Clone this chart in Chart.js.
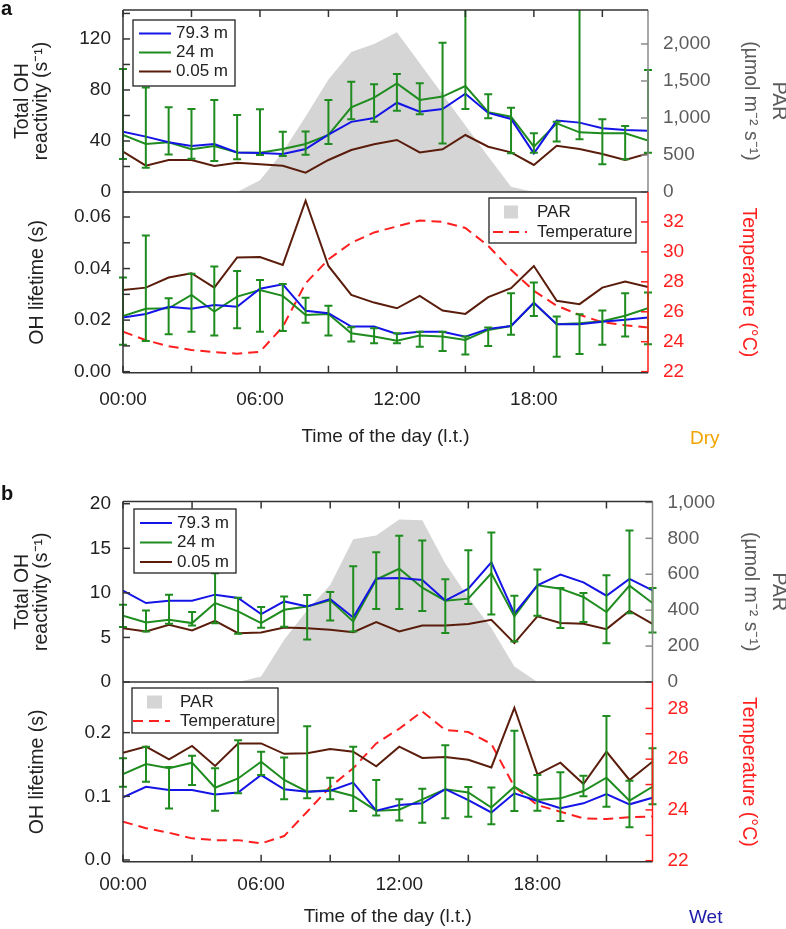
<!DOCTYPE html>
<html>
<head>
<meta charset="utf-8">
<script src="https://cdn.jsdelivr.net/npm/chart.js@4.4.1/dist/chart.umd.min.js"></script>
<style>
  html, body { margin: 0; padding: 0; background: #fff; overflow: hidden; }
  #wrap { position: relative; width: 786px; height: 929px; overflow: hidden; }
  canvas { position: absolute; left: 0; }
  .lbl { position: absolute; font-family: "Liberation Sans", Arial, sans-serif; white-space: nowrap; }
</style>
</head>
<body>
<div id="wrap">
  <canvas id="aTop" width="800" height="210" style="top:0px"></canvas>
  <canvas id="aBot" width="800" height="273" style="top:180px"></canvas>
  <canvas id="bTop" width="800" height="210" style="top:490px"></canvas>
  <canvas id="bBot" width="800" height="262" style="top:670px"></canvas>
  <div class="lbl" style="left:1px;top:-2px;font-size:20px;line-height:20px;font-weight:bold;color:#111">a</div>
  <div class="lbl" style="left:1px;top:483px;font-size:20px;line-height:20px;font-weight:bold;color:#111">b</div>
  <div class="lbl" style="left:690px;top:428px;font-size:19px;line-height:19px;color:#f0a400">Dry</div>
  <div class="lbl" style="left:689px;top:907px;font-size:19px;line-height:19px;color:#1c1ca8">Wet</div>
</div>
<script>
const FONT = '"Liberation Sans", Arial, Helvetica, sans-serif';
Chart.defaults.font.family = FONT;
Chart.defaults.color = "#222";

const hours = [0, 1, 2, 3, 4, 5, 6, 7, 8, 9, 10, 11, 12, 13, 14, 15, 16, 17, 18, 19, 20, 21, 22, 23];
const xTicks = [0, 3, 6, 9, 12, 15, 18, 21];
const xTickLabels = ["00:00", "", "06:00", "", "12:00", "", "18:00", ""];

// a: dry season
const dryOhr793 = [47.3, 43.4, 39, 36, 37.6, 31, 30.6, 29.8, 33.7, 45, 55, 58, 70, 63, 65, 77, 62, 57.3, 30.3, 56, 54.4, 50, 48.6, 48.1];
const dryOhr24 = [44.7, 37.6, 39, 33.5, 36, 31, 30.8, 33.7, 37.6, 44.7, 66.4, 74, 85.2, 72.2, 74.8, 83.1, 62.6, 59, 35.5, 53.8, 46.8, 46, 46, 40.3];
const dryOhr24Lo = [25.9, 19, 29.5, 26, 24.3, 25.6, 29, 28.2, 29.2, 37.6, 57, 55, 63.8, 60.9, 38, 65, 57.8, 30.3, 30.8, 39.5, 41.3, 21.7, 25.6, 30.8];
const dryOhr24Hi = [96.5, 82, 66.4, 65, 72.2, 60.4, 64.8, 47.3, 47.5, 72.2, 86.5, 84.4, 92.5, 85.2, 117, 160, 76.6, 66.1, 46, 55, 160, 57, 51.8, 95.7];
const dryOhr005 = [31.6, 20.6, 25.1, 25.1, 20.4, 23, 21.7, 20.6, 15.1, 25.1, 32.9, 37.4, 40.8, 31, 33.5, 44.7, 35.5, 31.1, 21.2, 36.3, 33.7, 29.8, 25.1, 30.3];
const dryPar = [0, 0, 0, 0, 0, 0, 160, 540, 1020, 1520, 1890, 2000, 2160, 1740, 1320, 900, 480, 70, 0, 0, 0, 0, 0, 0];
const dryLife793 = [0.021, 0.0224, 0.0252, 0.0244, 0.0259, 0.0252, 0.0322, 0.0339, 0.0236, 0.0227, 0.0175, 0.0175, 0.0146, 0.0155, 0.0155, 0.0136, 0.0166, 0.0177, 0.0268, 0.0184, 0.0184, 0.0194, 0.0201, 0.021];
const dryLife24 = [0.0216, 0.0244, 0.0246, 0.0298, 0.0233, 0.0291, 0.0317, 0.0294, 0.022, 0.0224, 0.0149, 0.0136, 0.012, 0.014, 0.0136, 0.0123, 0.0162, 0.0177, 0.0266, 0.0184, 0.0188, 0.0196, 0.0217, 0.0246];
const dryLife24Lo = [0.0104, 0.0119, 0.0145, 0.0155, 0.014, 0.0168, 0.0155, 0.0158, 0.019, 0.014, 0.0117, 0.011, 0.011, 0.0097, 0.008, 0.0067, 0.01, 0.0143, 0.0216, 0.0058, 0.0069, 0.0104, 0.0136, 0.0106];
const dryLife24Hi = [0.0365, 0.0528, 0.0285, 0.038, 0.0408, 0.0391, 0.0356, 0.034, 0.0287, 0.0256, 0.0172, 0.0168, 0.0149, 0.0155, 0.0155, 0.0136, 0.0171, 0.0304, 0.0346, 0.0214, 0.0223, 0.0237, 0.0304, 0.0307];
const dryLife005 = [0.0317, 0.0326, 0.0365, 0.0382, 0.0326, 0.0443, 0.0445, 0.0414, 0.0663, 0.041, 0.0298, 0.0268, 0.0246, 0.0294, 0.0237, 0.0224, 0.0289, 0.0324, 0.041, 0.0275, 0.0262, 0.0326, 0.035, 0.0328];
const dryTemp = [24.67, 24.1, 23.7, 23.45, 23.3, 23.2, 23.33, 25.0, 27.9, 29.5, 30.6, 31.3, 31.7, 32.1, 32.0, 31.6, 30.4, 28.8, 27.4, 26.4, 25.8, 25.3, 25.1, 24.95];

// b: wet season
const wetOhr793 = [10.25, 8.86, 9.12, 9.12, 9.8, 9.42, 7.62, 9.04, 8.48, 9.31, 7.24, 11.6, 11.68, 11.45, 9.14, 10.47, 13.43, 7.66, 10.84, 12.05, 11.18, 9.68, 11.56, 10.28];
const wetOhr24 = [7.43, 6.68, 6.98, 6.61, 8.86, 7.92, 6.61, 8.1, 8.48, 9.16, 6.79, 11.49, 12.7, 10.58, 9.12, 9.35, 12.2, 7.36, 10.84, 10.47, 9.54, 7.85, 10.81, 8.86];
const wetOhr24Lo = [6.16, 5.67, 6.53, 6.34, 6.6, 5.4, 6.1, 6.2, 4.77, 6.9, 5.67, 8.18, 8.2, 7.96, 5.5, 8.76, 7.56, 4.54, 7.43, 6.05, 6.72, 4.35, 7.7, 5.55];
const wetOhr24Hi = [8.67, 8.03, 9.8, 7.85, 12.2, 9.46, 8.41, 9.58, 9.76, 10.1, 12.98, 14.56, 16.4, 15.88, 11.53, 14.79, 16.78, 9.68, 12.61, 10.55, 9.98, 11.97, 17.0, 10.55];
const wetOhr005 = [6.04, 5.67, 6.42, 5.78, 6.87, 5.48, 5.55, 6.12, 6.04, 5.86, 5.58, 6.72, 5.67, 6.34, 6.34, 6.5, 6.98, 4.36, 7.36, 6.61, 6.53, 5.93, 8.0, 6.53];
const wetPar = [0, 0, 0, 0, 0, 0, 30, 235, 400, 540, 795, 815, 905, 900, 660, 470, 300, 86, 0, 0, 0, 0, 0, 0];
const wetLife793 = [0.0984, 0.115, 0.11, 0.11, 0.103, 0.106, 0.1334, 0.111, 0.1072, 0.1088, 0.1214, 0.0774, 0.0863, 0.089, 0.1113, 0.094, 0.0746, 0.1047, 0.0926, 0.0812, 0.089, 0.1036, 0.0874, 0.0978];
const wetLife24 = [0.135, 0.1507, 0.144, 0.1528, 0.1135, 0.128, 0.1543, 0.1256, 0.1072, 0.11, 0.1005, 0.0774, 0.079, 0.0953, 0.111, 0.106, 0.0824, 0.115, 0.0942, 0.0968, 0.1083, 0.1292, 0.0931, 0.115];
const wetLife24Lo = [0.115, 0.123, 0.081, 0.1177, 0.0774, 0.1047, 0.1334, 0.0953, 0.097, 0.0953, 0.077, 0.07, 0.062, 0.0586, 0.0654, 0.068, 0.0562, 0.0769, 0.0774, 0.0612, 0.1, 0.0837, 0.0513, 0.0874];
const wetLife24Hi = [0.1596, 0.178, 0.146, 0.1637, 0.144, 0.188, 0.17, 0.161, 0.21, 0.1292, 0.178, 0.1256, 0.0955, 0.112, 0.18, 0.1145, 0.1138, 0.203, 0.1334, 0.1377, 0.1323, 0.226, 0.1245, 0.1753];
const wetLife005 = [0.1685, 0.178, 0.158, 0.179, 0.1476, 0.183, 0.183, 0.1667, 0.1675, 0.1742, 0.17, 0.147, 0.178, 0.1603, 0.1617, 0.1575, 0.1453, 0.239, 0.1345, 0.1528, 0.1193, 0.17, 0.1256, 0.1543];
const wetTemp = [23.54, 23.28, 23.1, 22.88, 22.81, 22.81, 22.68, 22.97, 23.93, 24.91, 25.64, 26.62, 27.2, 27.88, 27.15, 27.07, 26.6, 24.91, 24.19, 23.93, 23.67, 23.64, 23.71, 23.74];

// axis ticks
const aReactTicks = [0, 20, 40, 60, 80, 100, 120, 140];
const aReactLabels = ["0", "", "40", "", "80", "", "120", ""];
const aParTicks = [0, 500, 1000, 1500, 2000];
const aLifeTicks = [0, 0.01, 0.02, 0.03, 0.04, 0.05, 0.06];
const aLifeLabels = ["0.00", "", "0.02", "", "0.04", "", "0.06"];
const aTempTicks = [22, 24, 26, 28, 30, 32];
const bReactTicks = [0, 5, 10, 15, 20];
const bParTicks = [0, 200, 400, 600, 800, 1000];
const bLifeTicks = [0, 0.1, 0.2];
const bLifeLabels = ["0.0", "0.1", "0.2"];
const bTempTicks = [22, 23, 24, 25, 26, 27, 28];
const bTempLabels = ["22", "", "24", "", "26", "", "28"];

const BLUE = "#1414e6";
const GREEN = "#1e8c1e";
const BROWN = "#5a1d0c";
const RED = "#ff1f1f";
const PARFILL = "#d5d5d5";
const PARAXIS = "#8a8a8a";
const PARTEXT = "#5c5c5c";

function pts(vals) {
  return hours.map((h, i) => ({ x: h, y: vals[i] }));
}

function lineSet(label, vals, color, order, axis) {
  return { label, data: pts(vals), borderColor: color, borderWidth: 2, pointRadius: 0, tension: 0, fill: false, order, yAxisID: axis || "y" };
}

function yAxis(o) {
  return {
    position: o.pos,
    min: o.min,
    max: o.max,
    grid: { display: false, drawTicks: false },
    border: { display: false },
    afterBuildTicks: (s) => { s.ticks = o.ticks.map((v) => ({ value: v })); },
    afterFit: (s) => { s.width = o.width; s.paddingTop = 0; s.paddingBottom = 0; },
    ticks: {
      autoSkip: false,
      padding: o.pad,
      color: o.color,
      font: { size: 19 },
      callback: (v, i) => o.labels[i],
    },
    title: {
      display: true,
      text: o.title,
      color: o.titleColor || o.color,
      font: { size: 19.5, lineHeight: o.lh || 1.2 },
      padding: { top: o.tpad, bottom: 0 },
    },
  };
}

function xAxis(show, height, pad, titlePad) {
  if (!show) return { type: "linear", min: 0, max: 23, display: false };
  return {
    type: "linear",
    min: 0,
    max: 23,
    grid: { display: false, drawTicks: false },
    border: { display: false },
    afterBuildTicks: (s) => { s.ticks = xTicks.map((v) => ({ value: v })); },
    afterFit: (s) => { s.height = height; s.paddingLeft = 0; s.paddingRight = 0; },
    ticks: { autoSkip: false, maxRotation: 0, padding: pad, color: "#222", font: { size: 19 }, callback: (v, i) => xTickLabels[i] },
    title: { display: true, text: "Time of the day (l.t.)", color: "#222", font: { size: 19 }, padding: { top: 0, bottom: titlePad } },
  };
}

// per-panel extras (error bars, frame, inset legend), looked up by canvas id
const heightRows = [
  { text: "79.3 m", line: BLUE, x0: 6, x1: 38 },
  { text: "24 m", line: GREEN, x0: 6, x1: 38 },
  { text: "0.05 m", line: BROWN, x0: 6, x1: 38 },
];
const extras = {
  aTop: {
    top: true, rightColor: PARAXIS, lo: dryOhr24Lo, hi: dryOhr24Hi,
    box: { dx: 10, dy: 10, w: 102, h: 66, first: 13.5, gap: 19, tx: 43, size: 17, rows: heightRows },
  },
  aBot: {
    top: false, rightColor: RED, lo: dryLife24Lo, hi: dryLife24Hi,
    box: {
      dx: 366, dy: 6, w: 147, h: 45, first: 14, gap: 20, tx: 48, size: 17,
      rows: [
        { text: "PAR", swatch: PARFILL, x0: 15, x1: 29 },
        { text: "Temperature", line: RED, dash: [10, 6], x0: 4, x1: 38 },
      ],
    },
  },
  bTop: {
    top: true, rightColor: PARAXIS, lo: wetOhr24Lo, hi: wetOhr24Hi,
    box: { dx: 11, dy: 7.5, w: 102, h: 64, first: 14, gap: 19.5, tx: 43, size: 17, rows: heightRows },
  },
  bBot: {
    top: false, rightColor: RED, lo: wetLife24Lo, hi: wetLife24Hi,
    box: {
      dx: 9, dy: 6, w: 146, h: 45, first: 14, gap: 19, tx: 48, size: 17,
      rows: [
        { text: "PAR", swatch: PARFILL, x0: 15, x1: 30 },
        { text: "Temperature", line: RED, dash: [10, 6], x0: 1, x1: 38 },
      ],
    },
  },
};

const errorBars = {
  id: "errorBars",
  afterDatasetsDraw(chart) {
    const o = extras[chart.canvas.id];
    const { ctx, chartArea: a, scales } = chart;
    ctx.save();
    ctx.beginPath();
    ctx.rect(a.left - 8, a.top, a.right - a.left + 16, a.bottom - a.top);
    ctx.clip();
    ctx.strokeStyle = GREEN;
    ctx.lineWidth = 2;
    hours.forEach((h, i) => {
      const px = scales.x.getPixelForValue(h);
      const p1 = scales.y.getPixelForValue(o.lo[i]);
      const p2 = scales.y.getPixelForValue(o.hi[i]);
      ctx.beginPath();
      ctx.moveTo(px, p1); ctx.lineTo(px, p2);
      ctx.moveTo(px - 4, p1); ctx.lineTo(px + 4, p1);
      ctx.moveTo(px - 4, p2); ctx.lineTo(px + 4, p2);
      ctx.stroke();
    });
    ctx.restore();
  },
};

const frame = {
  id: "frame",
  afterDatasetsDraw(chart) {
    const o = extras[chart.canvas.id];
    const { ctx, chartArea: a, scales } = chart;
    const seg = (x1, y1, x2, y2) => { ctx.beginPath(); ctx.moveTo(x1, y1); ctx.lineTo(x2, y2); ctx.stroke(); };
    ctx.save();
    ctx.lineWidth = 1.5;
    ctx.strokeStyle = o.rightColor;
    seg(a.right, a.top, a.right, a.bottom);
    scales.yR.ticks.forEach((t) => {
      const p = scales.yR.getPixelForValue(t.value);
      seg(a.right - 7, p, a.right, p);
    });
    ctx.strokeStyle = "#333";
    seg(a.left, a.top, a.left, a.bottom);
    scales.y.ticks.forEach((t) => {
      const p = scales.y.getPixelForValue(t.value);
      seg(a.left, p, a.left + 7, p);
    });
    seg(a.left, a.bottom, a.right, a.bottom);
    if (o.top) seg(a.left, a.top, a.right, a.top);
    const edge = o.top ? a.top : a.bottom;
    const dir = o.top ? 1 : -1;
    xTicks.forEach((v) => {
      const p = scales.x.getPixelForValue(v);
      seg(p, edge, p, edge + dir * 7);
    });
    ctx.restore();
  },
};

const boxLegend = {
  id: "boxLegend",
  afterDraw(chart) {
    const o = extras[chart.canvas.id].box;
    const { ctx, chartArea: a } = chart;
    const x = a.left + o.dx;
    const y = a.top + o.dy;
    ctx.save();
    ctx.fillStyle = "#fff";
    ctx.fillRect(x, y, o.w, o.h);
    ctx.strokeStyle = "#222";
    ctx.lineWidth = 1.3;
    ctx.strokeRect(x, y, o.w, o.h);
    ctx.font = o.size + "px " + FONT;
    ctx.textBaseline = "middle";
    o.rows.forEach((r, i) => {
      const ry = y + o.first + i * o.gap;
      if (r.swatch) {
        ctx.fillStyle = r.swatch;
        ctx.fillRect(x + r.x0, ry - 6.5, r.x1 - r.x0, 13);
      } else {
        ctx.strokeStyle = r.line;
        ctx.lineWidth = 2;
        ctx.setLineDash(r.dash || []);
        ctx.beginPath();
        ctx.moveTo(x + r.x0, ry);
        ctx.lineTo(x + r.x1, ry);
        ctx.stroke();
        ctx.setLineDash([]);
      }
      ctx.fillStyle = "#222";
      ctx.fillText(r.text, x + o.tx, ry);
    });
    ctx.restore();
  },
};

function makeChart(id, datasets, scales, layoutPad) {
  return new Chart(document.getElementById(id).getContext("2d"), {
    type: "line",
    data: { datasets },
    options: {
      responsive: false,
      animation: false,
      devicePixelRatio: 1,
      events: [],
      layout: { padding: layoutPad, autoPadding: false },
      plugins: { legend: { display: false }, tooltip: { enabled: false } },
      scales,
    },
    plugins: [errorBars, frame, boxLegend],
  });
}

const reactTitle = ["Total OH", "reactivity (s\u207B\u00B9)"];
const parTitle = ["PAR", "(\u00B5mol m\u207B\u00B2 s\u207B\u00B9)"];

// ---- a, top: total OH reactivity + PAR
makeChart(
  "aTop",
  [
    lineSet("79.3 m", dryOhr793, BLUE, 1),
    lineSet("24 m", dryOhr24, GREEN, 2),
    lineSet("0.05 m", dryOhr005, BROWN, 3),
    { label: "PAR", data: pts(dryPar), yAxisID: "yR", fill: "origin", backgroundColor: PARFILL, borderColor: PARFILL, borderWidth: 0, pointRadius: 0, tension: 0, order: 10 },
  ],
  {
    x: xAxis(false),
    y: yAxis({ pos: "left", min: 0, max: 142.7, ticks: aReactTicks, labels: aReactLabels, width: 123, pad: 12, color: "#222", title: reactTitle, lh: 1.0, tpad: 12.5 }),
    yR: yAxis({ pos: "right", min: 0, max: 2459, ticks: aParTicks, labels: aParTicks.map((v) => v.toLocaleString("en-US")), width: 152, pad: 15, color: PARTEXT, title: parTitle, lh: 1.4, tpad: 8.4 }),
  },
  { top: 10, bottom: 18, left: 0, right: 0 }
);

// ---- a, bottom: OH lifetime + temperature
makeChart(
  "aBot",
  [
    lineSet("79.3 m", dryLife793, BLUE, 1),
    lineSet("24 m", dryLife24, GREEN, 2),
    lineSet("0.05 m", dryLife005, BROWN, 3),
    { label: "Temperature", data: pts(dryTemp), yAxisID: "yR", borderColor: RED, borderDash: [10, 6], borderWidth: 2, pointRadius: 0, tension: 0, fill: false, order: 4 },
  ],
  {
    x: xAxis(true, 80, 16, 4.3),
    y: yAxis({ pos: "left", min: -0.0004, max: 0.0697, ticks: aLifeTicks, labels: aLifeLabels, width: 123, pad: 12, color: "#222", title: "OH lifetime (s)", tpad: 26.3 }),
    yR: yAxis({ pos: "right", min: 21.93, max: 34, ticks: aTempTicks, labels: aTempTicks.map(String), width: 152, pad: 15, color: RED, title: "Temperature (\u00B0C)", tpad: 40.3 }),
  },
  { top: 12, bottom: 0.3, left: 0, right: 0 }
);

// ---- b, top
makeChart(
  "bTop",
  [
    lineSet("79.3 m", wetOhr793, BLUE, 1),
    lineSet("24 m", wetOhr24, GREEN, 2),
    lineSet("0.05 m", wetOhr005, BROWN, 3),
    { label: "PAR", data: pts(wetPar), yAxisID: "yR", fill: "origin", backgroundColor: PARFILL, borderColor: PARFILL, borderWidth: 0, pointRadius: 0, tension: 0, order: 10 },
  ],
  {
    x: xAxis(false),
    y: yAxis({ pos: "left", min: 0, max: 20.25, ticks: bReactTicks, labels: bReactTicks.map(String), width: 123, pad: 12, color: "#222", title: reactTitle, lh: 1.0, tpad: 12.5 }),
    yR: yAxis({ pos: "right", min: 0, max: 1005, ticks: bParTicks, labels: bParTicks.map((v) => v.toLocaleString("en-US")), width: 147.5, pad: 15, color: PARTEXT, title: parTitle, lh: 1.4, tpad: 8.4 }),
  },
  { top: 11.5, bottom: 18, left: 0, right: 0 }
);

// ---- b, bottom
makeChart(
  "bBot",
  [
    lineSet("79.3 m", wetLife793, BLUE, 1),
    lineSet("24 m", wetLife24, GREEN, 2),
    lineSet("0.05 m", wetLife005, BROWN, 3),
    { label: "Temperature", data: pts(wetTemp), yAxisID: "yR", borderColor: RED, borderDash: [10, 6], borderWidth: 2, pointRadius: 0, tension: 0, fill: false, order: 4 },
  ],
  {
    x: xAxis(true, 70, 12, 3.3),
    y: yAxis({ pos: "left", min: -0.0027, max: 0.2795, ticks: bLifeTicks, labels: bLifeLabels, width: 123, pad: 12, color: "#222", title: "OH lifetime (s)", tpad: 26.3 }),
    yR: yAxis({ pos: "right", min: 21.96, max: 29.04, ticks: bTempTicks, labels: bTempLabels, width: 147.5, pad: 15, color: RED, title: "Temperature (\u00B0C)", tpad: 40.3 }),
  },
  { top: 12, bottom: 0.3, left: 0, right: 0 }
);
</script>
</body>
</html>
